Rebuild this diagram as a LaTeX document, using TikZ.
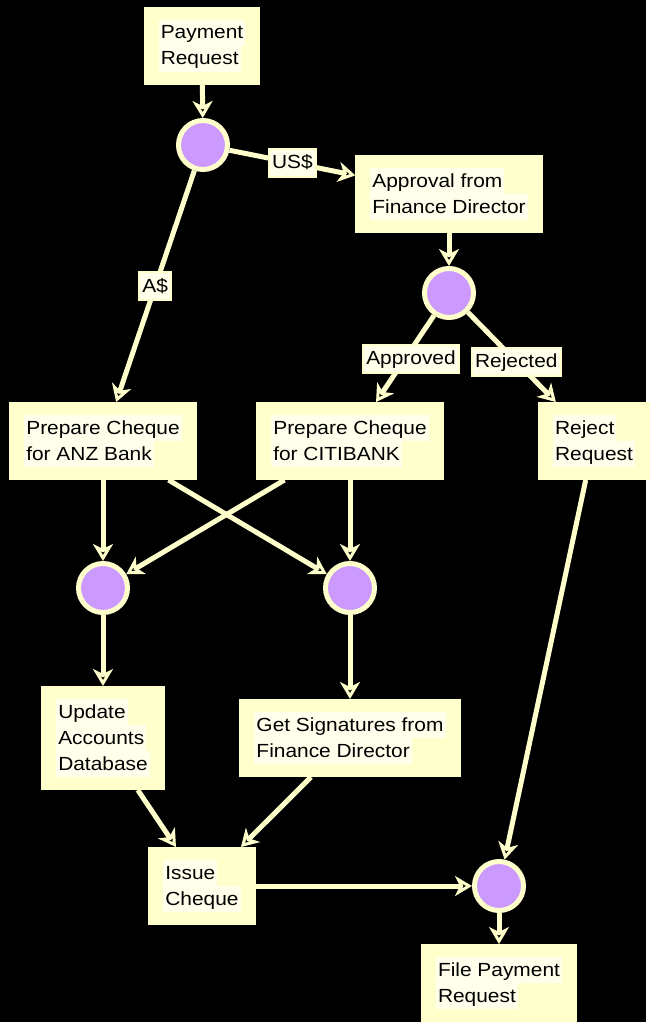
\documentclass[tikz,border=0pt]{standalone}
\usepackage{fontspec}
\setmainfont[FakeStretch=1.1]{Liberation Sans}
\usetikzlibrary{arrows.meta}
\definecolor{boxfill}{HTML}{FFFFCC}
\definecolor{textbg}{HTML}{FFFFEC}
\definecolor{gatefill}{HTML}{CC99FF}
\setlength\fboxsep{2pt}
\newcommand\bgline[1]{\colorbox{textbg}{\rule[-5pt]{0pt}{22pt}#1}}
\tikzset{
  task/.style={rectangle, fill=boxfill, draw=boxfill, line width=2pt, align=left,
    inner xsep=14pt, inner ysep=12pt, font=\fontsize{19}{26}\selectfont},
  gate/.style={circle, fill=gatefill, draw=boxfill, line width=5pt, minimum size=49pt, inner sep=0pt},
  flow/.style={draw=boxfill, line width=5pt, -{Stealth[length=17pt,width=20pt,inset=5pt]}},
  cond/.style={fill=boxfill, inner sep=2pt, font=\fontsize{19}{22}\selectfont}
}

\begin{document}
\begin{tikzpicture}[x=1pt,y=-1pt]
  \fill[black] (0,0) rectangle (646,1022);

  \node[task] (pay)  at (202,46)  {\bgline{Payment}\\\bgline{Request}};
  \node[gate] (g1)   at (203,145) {};
  \node[task] (fin)  at (449,194) {\bgline{Approval from}\\\bgline{Finance Director}};
  \node[gate] (g2)   at (449,293) {};
  \node[task] (anz)  at (103,441) {\bgline{Prepare Cheque}\\\bgline{for ANZ Bank}};
  \node[task] (citi) at (350,441) {\bgline{Prepare Cheque}\\\bgline{for CITIBANK}};
  \node[task] (rej)  at (594,441) {\bgline{Reject}\\\bgline{Request}};
  \node[gate] (g3)   at (103,588) {};
  \node[gate] (g4)   at (350,588) {};
  \node[task] (upd)  at (103,738) {\bgline{Update}\\\bgline{Accounts}\\\bgline{Database}};
  \node[task] (sig)  at (350,738) {\bgline{Get Signatures from}\\\bgline{Finance Director}};
  \node[task] (iss)  at (202,886) {\bgline{Issue}\\\bgline{Cheque}};
  \node[gate] (g5)   at (499,886) {};
  \node[task] (file) at (499,983) {\bgline{File Payment}\\\bgline{Request}};

  \path[flow]
  (pay) edge (g1)
  (g1) edge node[cond] {\bgline{US\$}} (fin)
  (g1) edge node[cond] {\bgline{A\$}} (anz)
  (fin) edge (g2)
  (g2) edge node[cond, xshift=6pt] {\bgline{Approved}} (citi)
  (g2) edge node[cond, pos=0.55] {\bgline{Rejected}} (rej)
  ;
  \path[flow]
  (anz) edge (g3)
  (anz) edge (g4)
  (citi) edge (g3)
  (citi) edge (g4)
  (g3) edge (upd)
  (g4) edge (sig)
  ;
  \path[flow]
  (upd) edge (iss)
  (sig) edge (iss)
  (iss) edge (g5)
  (rej) edge (g5)
  (g5) edge (file)
  ;
\end{tikzpicture}
\end{document}
